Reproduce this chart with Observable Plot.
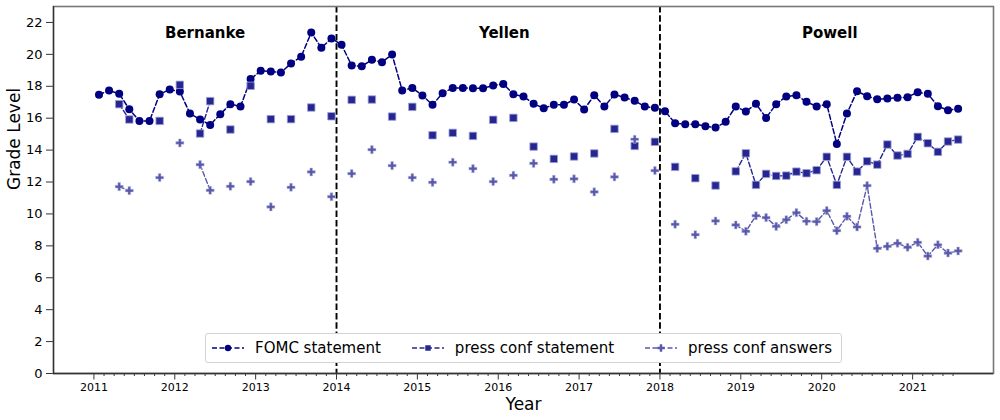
<!DOCTYPE html>
<html>
<head>
<meta charset="utf-8">
<script src="https://cdn.jsdelivr.net/npm/d3@7"></script>
<script src="https://cdn.jsdelivr.net/npm/@observablehq/plot@0.6"></script>
<style>
  body { margin: 0; background: #fff; font-family: "DejaVu Sans", sans-serif; }
  #wrap { position: relative; width: 1000px; height: 420px; }
  #legend { position: absolute; left: 205px; top: 333px; width: 637px; height: 30px; box-sizing: border-box;
    border: 1px solid #d3d3d3; border-radius: 3px; background: #fff; display: flex; align-items: center;
    font-size: 15px; padding-left: 6px; color: #000; white-space: nowrap; }
  .item { display: flex; align-items: center; margin-right: 31px; }
  .item svg { margin-right: 11px; }
</style>
</head>
<body>
<div id="wrap"><div id="chart"></div><div id="legend"></div></div>
<script>
// ---- data ----
const years = ["2011","2012","2013","2014","2015","2016","2017","2018","2019","2020","2021"];
const meetingsPerYear = [8, 8, 8, 8, 8, 8, 8, 8, 8, 9, 5];

// FOMC statement grade level, one per meeting (Jan 2011 - Jul 2021)
const fomcStatement = [
  17.47, 17.74, 17.53, 16.56, 15.83, 15.83, 17.50, 17.80,
  17.67, 16.29, 15.92, 15.58, 16.25, 16.88, 16.73, 18.45,
  18.97, 18.93, 18.86, 19.43, 19.85, 21.37, 20.41, 21.00,
  20.60, 19.30, 19.26, 19.66, 19.51, 19.99, 17.74, 17.90,
  17.42, 16.84, 17.57, 17.90, 17.90, 17.88, 17.88, 18.05,
  18.15, 17.50, 17.36, 16.90, 16.63, 16.84, 16.84, 17.17,
  16.54, 17.44, 16.73, 17.49, 17.30, 17.09, 16.73, 16.65,
  16.44, 15.68, 15.62, 15.62, 15.50, 15.41, 15.77, 16.73,
  16.42, 16.90, 16.02, 16.88, 17.36, 17.44, 17.03, 16.73,
  16.88, 14.39, 16.29, 17.69, 17.38, 17.19, 17.23, 17.28, 17.32,
  17.63, 17.53, 16.75, 16.50, 16.59
];

// meetings (0-based index) that had a press conference
const pressMeetings = [
  2, 3, 6, 8, 10, 11, 13, 15, 17, 19, 21, 23, 25, 27, 29, 31,
  33, 35, 37, 39, 41, 43, 45, 47, 49, 51, 53, 55, 57, 59, 61, 63,
  64, 65, 66, 67, 68, 69, 70, 71, 72, 73, 74, 75, 76, 77, 78, 79, 80,
  81, 82, 83, 84, 85
];
const pressStatement = [
  16.88, 15.92, 15.83, 18.09, 15.04, 17.07, 15.29, 18.03, 15.94, 15.94, 16.67, 16.12, 17.15, 17.17, 16.10, 16.71,
  14.93, 15.08, 14.89, 15.90, 16.02, 14.22, 13.45, 13.60, 13.79, 15.33, 14.26, 14.52, 12.95, 12.24, 11.78, 12.67,
  13.80, 11.82, 12.51, 12.38, 12.40, 12.65, 12.55, 12.74, 13.58, 11.82, 13.58, 12.65, 13.30, 13.09, 14.35, 13.66, 13.76,
  14.83, 14.43, 13.89, 14.54, 14.66
];
const pressAnswers = [
  11.71, 11.46, 12.28, 14.45, 13.09, 11.48, 11.73, 12.03, 10.44, 11.67, 12.63, 11.08, 12.53, 14.03, 13.03, 12.28,
  11.98, 13.24, 12.84, 12.03, 12.42, 13.17, 12.17, 12.20, 11.38, 12.32, 14.68, 12.72, 9.35, 8.70, 9.56, 9.31,
  8.91, 9.89, 9.77, 9.22, 9.64, 10.08, 9.54, 9.52, 10.21, 8.95, 9.85, 9.18, 11.78, 7.84, 7.97, 8.16, 7.91,
  8.22, 7.36, 8.07, 7.55, 7.68
];

const chairs = ["Bernanke", "Yellen", "Powell"];
const chairStartYear = ["2011", "2014", "2018"];
const chairLabelX = [11.0, 40.6, 72.8];   // label centres, in meeting units
const chairLabelY = 21.3;

const seriesNames = ["FOMC statement", "press conf statement", "press conf answers"];

// ---- build table ----
const yearStart = [];
let acc = 0;
for (const n of meetingsPerYear) { yearStart.push(acc); acc += n; }
const nMeetings = acc;
const minorTicks = d3.range(0, nMeetings).filter(i => !yearStart.includes(i));

const spread = vals => {
  const a = new Array(nMeetings).fill(NaN);
  pressMeetings.forEach((m, k) => { a[m] = vals[k]; });
  return a;
};
const ps = spread(pressStatement);
const pa = spread(pressAnswers);
const rows = d3.range(nMeetings).map(i => ({ x: i + 0.5, fomc: fomcStatement[i], ps: ps[i], pa: pa[i] }));
const transitions = chairStartYear.slice(1).map(y => yearStart[years.indexOf(y)]);

const c1 = "#000080", c2 = "#262693", c3 = "#5959ac";
const dash = "5,2.5";

const chart = Plot.plot({
  width: 1000, height: 420,
  marginLeft: 53, marginRight: 7, marginTop: 6, marginBottom: 47,
  x: { domain: [-4, 89], axis: null },
  y: { domain: [0, 23], axis: null },
  style: { fontFamily: "DejaVu Sans", background: "white", color: "black" },
  marks: [
    Plot.ruleX(transitions, { stroke: "black", strokeWidth: 1.9, strokeDasharray: "6.5,2.8" }),
    Plot.line(rows, { x: "x", y: "fomc", stroke: c1, strokeWidth: 1.5, strokeDasharray: dash }),
    Plot.dot(rows, { x: "x", y: "fomc", r: 4, fill: c1, stroke: null }),
    Plot.line(rows, { x: "x", y: "ps", stroke: c2, strokeWidth: 1.4, strokeDasharray: dash }),
    Plot.dot(rows, { x: "x", y: "ps", symbol: "square", r: 4.2, fill: c2, stroke: "#a0a0d4", strokeWidth: 0.8 }),
    Plot.line(rows, { x: "x", y: "pa", stroke: c3, strokeWidth: 1.4, strokeDasharray: dash }),
    Plot.dot(rows, { x: "x", y: "pa", symbol: "cross", r: 3.4, fill: c3, stroke: "#c4c4e2", strokeWidth: 0.5 }),
    Plot.text(chairs, { x: (d, i) => chairLabelX[i], y: () => chairLabelY, text: d => d,
      fontWeight: "bold", fontSize: 15 }),
    Plot.axisY({ ticks: d3.range(0, 23, 2), tickSize: 7, tickPadding: 4, fontSize: 13, label: null, stroke: "#333" }),
    Plot.axisX(yearStart, { tickSize: 6.5, tickPadding: 3, fontSize: 11, label: null, stroke: "#333",
      tickFormat: d => years[yearStart.indexOf(d)] }),
    Plot.axisX(minorTicks, { tickSize: 3, tickFormat: () => "", label: null, stroke: "#333" }),
    Plot.frame({ stroke: "#777", strokeWidth: 1.6 }),
    Plot.ruleY([0], { stroke: "#333", strokeWidth: 1.3 }),
    Plot.ruleX([-4], { stroke: "#333", strokeWidth: 1.3 }),
    Plot.text(["Year"], { frameAnchor: "bottom", lineAnchor: "middle", dy: 31, fontSize: 17 }),
    Plot.text(["Grade Level"], { frameAnchor: "left", lineAnchor: "middle", dx: -39, rotate: -90, fontSize: 17 })
  ]
});
document.getElementById("chart").appendChild(chart);

// ---- legend ----
const legendSpecs = [
  { color: c1, sym: d3.symbolCircle, size: Math.PI * 3.2 * 3.2 },
  { color: c2, sym: d3.symbolSquare, size: 30 },
  { color: c3, sym: d3.symbolCross, size: 30 }
];
const legend = d3.select("#legend");
seriesNames.forEach((name, i) => {
  const s = legendSpecs[i];
  const item = legend.append("div").attr("class", "item");
  const svg = item.append("svg").attr("width", 32).attr("height", 12);
  svg.append("line").attr("x1", 0).attr("x2", 32).attr("y1", 6).attr("y2", 6)
    .attr("stroke", s.color).attr("stroke-width", 1.4).attr("stroke-dasharray", "5,2.5");
  svg.append("path").attr("transform", "translate(16,6)").attr("d", d3.symbol(s.sym, s.size)())
    .attr("fill", s.color);
  item.append("span").text(name);
});
</script>
</body>
</html>
